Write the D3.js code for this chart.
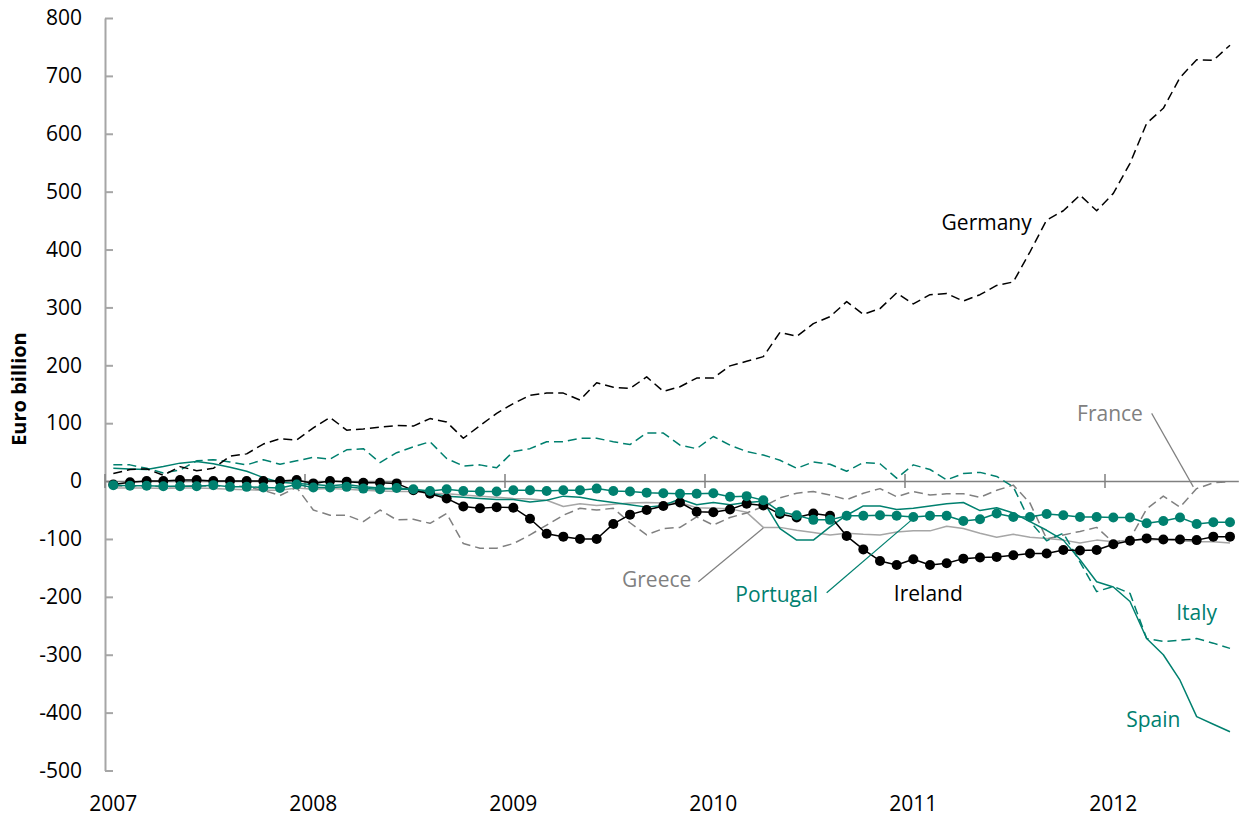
<!DOCTYPE html>
<html><head><meta charset="utf-8">
<script src="https://cdn.jsdelivr.net/npm/d3@7"></script>
<style>
body{margin:0;background:#fff}
svg{display:block}
text{font-family:"Open Sans",sans-serif}
</style>
</head><body>
<svg id="chart" width="1243" height="818"></svg>
<script>
// ---- data (Euro billion, monthly Jan 2007 - Aug 2012) ----
const yearLabels = ["2007","2008","2009","2010","2011","2012"];
const months = d3.utcMonth.range(new Date(Date.UTC(2007,0,1)), new Date(Date.UTC(2012,8,1))).map(d3.utcFormat("%Y-%m"));
const yTicks = [-500,-400,-300,-200,-100,0,100,200,300,400,500,600,700,800];

const germany = [13,20,21,10,25,18,22,43,47,64,73,71,
  92,110,88,90,93,96,95,108,102,74,96,117,
  134,148,152,152,140,170,162,160,180,155,163,178,
  178,199,207,215,257,250,272,284,310,288,298,325,
  306,322,324,311,322,338,344,396,451,467,494,467,
  497,549,618,644,697,728,727,753];
const italy = [28,28,22,14,19,35,37,33,28,37,29,35,
  41,38,54,56,32,49,59,68,39,26,28,23,
  51,56,68,68,74,74,68,63,83,83,62,56,
  77,62,51,45,36,22,33,29,17,32,30,5,
  28,20,2,13,15,8,-10,-70,-103,-90,-140,-191,
  -182,-194,-272,-277,-275,-272,-280,-289];
const france = [-8,-9,-8,-10,-9,-8,-9,-8,-10,-16,-25,-11,
  -50,-59,-59,-70,-50,-67,-66,-73,-56,-108,-116,-116,
  -108,-93,-76,-59,-47,-50,-47,-72,-93,-82,-80,-62,
  -76,-63,-55,-44,-29,-21,-18,-24,-32,-21,-13,-27,
  -18,-24,-22,-22,-28,-16,-7,-38,-100,-93,-87,-80,
  -106,-100,-48,-26,-45,-13,-3,-1];
const spain = [22,21,20,25,31,34,30,24,17,6,-2,-4,
  -6,-8,-6,-10,-12,-14,-14,-21,-26,-28,-30,-32,
  -32,-36,-33,-26,-28,-33,-37,-41,-45,-42,-31,-41,
  -37,-41,-37,-35,-82,-102,-102,-79,-59,-43,-43,-49,
  -47,-43,-39,-37,-51,-46,-55,-70,-85,-102,-136,-174,
  -183,-208,-272,-300,-344,-407,-420,-433];
const greece = [-12,-12,-12,-13,-12,-12,-13,-14,-15,-16,-16,-12,
  -14,-13,-14,-16,-17,-18,-18,-21,-22,-24,-26,-28,
  -30,-31,-33,-44,-39,-42,-40,-38,-37,-38,-37,-46,
  -47,-48,-54,-80,-80,-85,-89,-93,-90,-92,-93,-88,
  -86,-86,-78,-82,-90,-97,-92,-97,-99,-102,-107,-102,
  -105,-102,-102,-101,-103,-105,-105,-107];
const ireland = [-6,-2,0,0,2,2,0,0,0,0,0,2,
  -4,0,-1,-3,-3,-4,-16,-22,-30,-44,-47,-45,
  -46,-65,-91,-96,-100,-100,-74,-58,-50,-43,-37,-53,
  -54,-49,-39,-42,-57,-63,-56,-60,-95,-118,-138,-145,
  -135,-145,-142,-134,-132,-131,-128,-125,-125,-119,-120,-119,
  -109,-103,-99,-101,-101,-102,-96,-96];
const portugal = [-7,-8,-8,-9,-9,-9,-7,-10,-10,-11,-12,-6,
  -11,-11,-10,-13,-14,-12,-14,-17,-14,-17,-18,-18,
  -16,-16,-17,-16,-16,-13,-17,-18,-20,-21,-22,-22,
  -21,-27,-26,-33,-53,-59,-67,-67,-60,-60,-59,-60,
  -62,-60,-60,-69,-66,-56,-62,-62,-57,-59,-62,-62,
  -63,-63,-73,-69,-63,-74,-71,-71];

const TEAL = "#00806f", GREY = "#808080", LGREY = "#a6a6a6";

const series = [
  {name:"Greece",   values:greece,   color:LGREY, dash:null,  dots:false},
  {name:"France",   values:france,   color:GREY,  dash:"9,5", dots:false},
  {name:"Spain",    values:spain,    color:TEAL,  dash:null,  dots:false},
  {name:"Italy",    values:italy,    color:TEAL,  dash:"9,5", dots:false},
  {name:"Germany",  values:germany,  color:"#000",dash:"9,5", dots:false},
  {name:"Ireland",  values:ireland,  color:"#000",dash:null,  dots:true},
  {name:"Portugal", values:portugal, color:TEAL,  dash:null,  dots:true}
];

// labels: position given as (month index, value); leader: from/to in (month index, value)
const labels = [
  {text:"Germany",  i:52.4, v:434,  color:"#000"},
  {text:"France",   i:59.8, v:103,  color:GREY, leader:[[62.3,117],[64.8,-10]]},
  {text:"Greece",   i:32.6, v:-183, color:GREY, leader:[[35.1,-174],[39.0,-81]]},
  {text:"Portugal", i:39.8, v:-209, color:TEAL, leader:[[42.8,-193],[47.9,-67]]},
  {text:"Ireland",  i:48.9, v:-207, color:"#000"},
  {text:"Italy",    i:65.0, v:-240, color:TEAL},
  {text:"Spain",    i:62.4, v:-425, color:TEAL}
];

// ---- layout ----
const svg = d3.select("#chart");
const x = d3.scaleBand().domain(months).range([105, 1238.33]).padding(0);
const bw = x.bandwidth();
const xc = i => x(months[0]) + bw*(i+0.5);   // fractional month index -> center
const y = d3.scaleLinear().domain([-500, 800]).range([770.5, 18]);

// y axis
const yAxis = d3.axisLeft(y).tickValues(yTicks).tickSizeInner(-8).tickSizeOuter(0).tickPadding(23)
  .tickFormat(d => String(d));
const gy = svg.append("g").attr("transform","translate(105,0)").call(yAxis);
gy.select(".domain").attr("stroke", LGREY).attr("stroke-width", 2);
gy.selectAll(".tick line").attr("stroke", LGREY).attr("stroke-width", 2);
gy.selectAll(".tick text").attr("font-size", 21).attr("fill","#000")
  .style("font-family","'Open Sans',sans-serif");

// zero line with year ticks
const yearMonths = yearLabels.map(yl => yl + "-01");
const xAxis = d3.axisBottom(x).tickValues(yearMonths).tickSizeInner(14).tickSizeOuter(0).tickFormat("");
const gx = svg.append("g").attr("transform", `translate(0,${y(0)})`).call(xAxis);
gx.select(".domain").attr("stroke", GREY).attr("stroke-width", 1.5);
gx.selectAll(".tick").attr("transform", d => `translate(${x(d)},0)`);
gx.selectAll(".tick line").attr("stroke", GREY).attr("stroke-width", 1.5).attr("y1", -7).attr("y2", 7);

// year labels at bottom, centred on January
svg.append("g").selectAll("text").data(yearLabels).join("text")
  .attr("x", d => x(d + "-01") + bw/2)
  .attr("y", 811)
  .attr("text-anchor","middle")
  .attr("font-size", 21)
  .attr("fill","#000")
  .text(d => d);

// y title
svg.append("text")
  .attr("transform", `translate(26,${y(159)}) rotate(-90)`)
  .attr("text-anchor","middle")
  .attr("font-size", 20)
  .attr("font-weight","bold")
  .attr("fill","#000")
  .text("Euro billion");

// series
const line = d3.line().x((d,i) => xc(i)).y(d => y(d));
series.forEach(s => {
  svg.append("path")
    .datum(s.values)
    .attr("fill","none")
    .attr("stroke", s.color)
    .attr("stroke-width", 1.5)
    .attr("stroke-dasharray", s.dash)
    .attr("stroke-linejoin","round")
    .attr("d", line);
  if (s.dots) {
    svg.append("g").selectAll("circle").data(s.values).join("circle")
      .attr("cx", (d,i) => xc(i))
      .attr("cy", d => y(d))
      .attr("r", 5)
      .attr("fill", s.color);
  }
});

// labels & leaders
labels.forEach(l => {
  if (l.leader) {
    svg.append("line")
      .attr("x1", xc(l.leader[0][0])).attr("y1", y(l.leader[0][1]))
      .attr("x2", xc(l.leader[1][0])).attr("y2", y(l.leader[1][1]))
      .attr("stroke", l.color).attr("stroke-width", 1.2);
  }
  svg.append("text")
    .attr("x", xc(l.i)).attr("y", y(l.v))
    .attr("text-anchor","middle")
    .attr("font-size", 21)
    .attr("fill", l.color)
    .text(l.text);
});
</script>
</body></html>
